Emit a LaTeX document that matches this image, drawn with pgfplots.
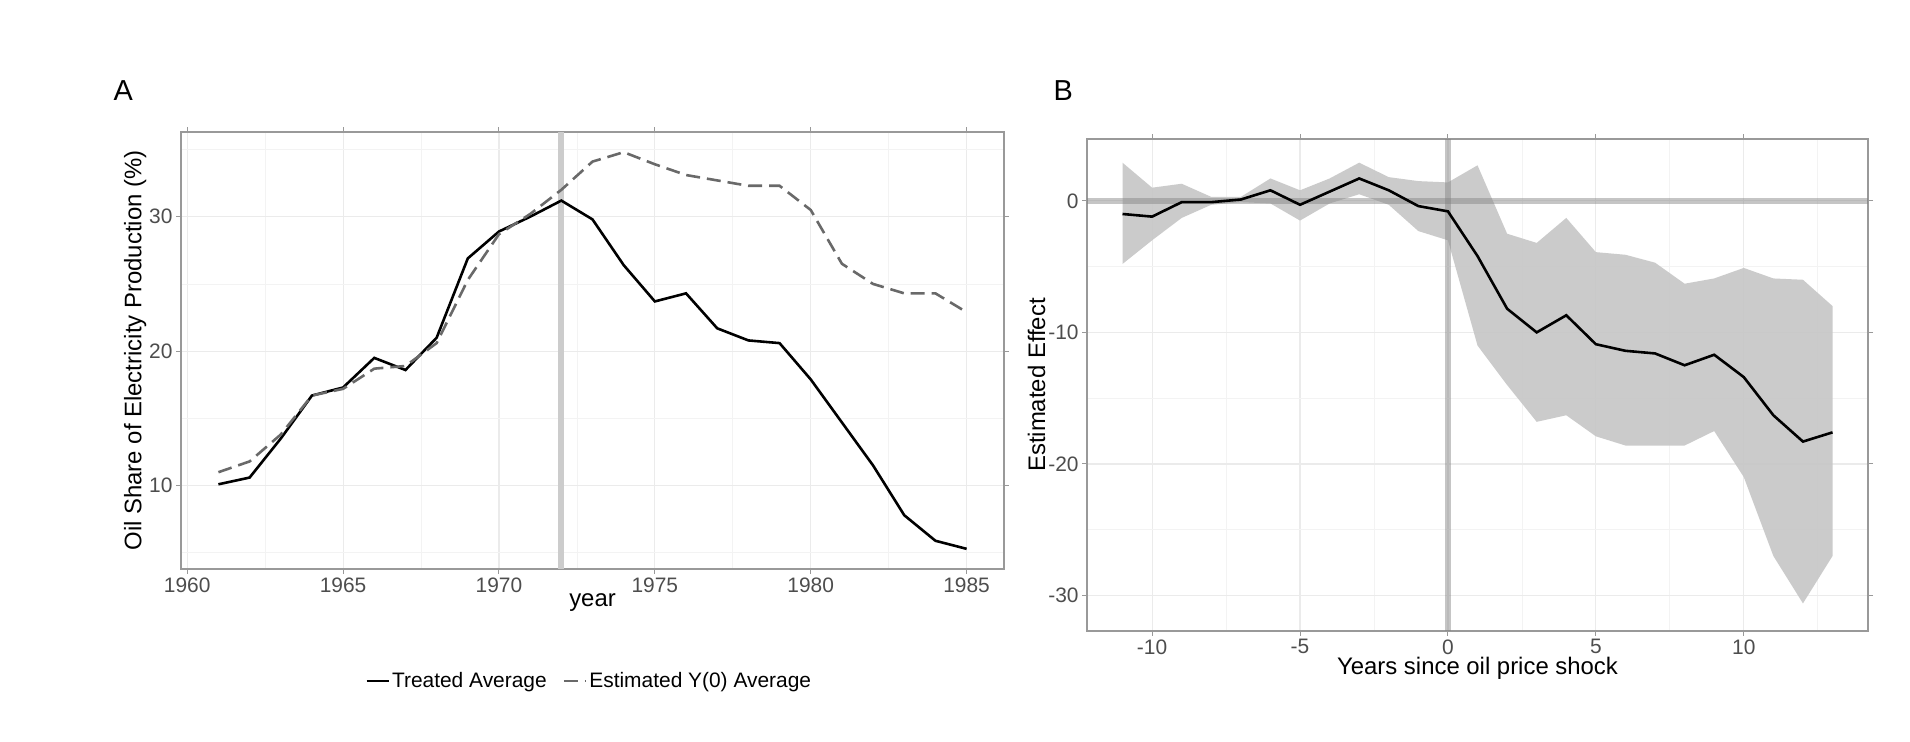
\documentclass[border=0pt]{standalone}
\usepackage{pgfplots}
\pgfplotsset{compat=1.18}
\usepackage{fontspec}
\setmainfont{Liberation Sans}
\definecolor{tc}{RGB}{77,77,77}
\definecolor{gl}{RGB}{235,235,235}
\pgfplotsset{gg/.style={scale only axis, axis line style={draw=gray!80, line width=1.2pt},
 tick align=outside, major tick length=5pt, tick style={draw=gray!80,line width=1pt}, minor tick length=0pt,
 grid=both, major grid style={gl, line width=1.2pt}, minor grid style={gl!60, line width=0.8pt},
 ticklabel style={font=\fontsize{21}{24}\selectfont, text=tc},
 label style={font=\fontsize{24}{28}\selectfont},
 /pgf/number format/assume math mode=true, /pgf/number format/1000 sep={}}}
\begin{document}
\begin{tikzpicture}[x=1bp,y=1bp]
\path[fill=white] (0,0) rectangle (1910,-742);
\node[anchor=base west, font=\fontsize{29}{32}\selectfont] at (110,-100) {A};
\node[anchor=base west, font=\fontsize{29}{32}\selectfont] at (1050,-100) {B};
\begin{axis}[gg, at={(181bp,-132bp)}, anchor=north west, width=823bp, height=437bp,
 xmin=1959.8, xmax=1986.2, ymin=3.8, ymax=36.3,
 xtick={1960,1965,...,1985}, minor xtick={1962.5,1967.5,...,1982.5},
 ytick={10,20,30}, minor ytick={5,15,25,35},
 xlabel={year}, ylabel={Oil Share of Electricity Production (\%)},
 xlabel style={yshift=6pt}, ylabel style={yshift=-4pt},
 legend columns=2, legend style={at={(0.496,-0.256)}, anchor=center, draw=none, fill=none,
   font=\fontsize{21}{24}\selectfont, /tikz/every even column/.append style={column sep=14pt}},
 legend image post style={xscale=1.3}]
\addplot[gray!40, line width=6pt, forget plot] coordinates {(1972,3.8) (1972,36.3)};
\addplot[black, line width=2.6pt] coordinates {(1961,10.1)(1962,10.6)(1963,13.5)(1964,16.7)(1965,17.3)(1966,19.5)(1967,18.6)(1968,21.0)(1969,26.9)(1970,28.9)(1971,30.0)(1972,31.2)(1973,29.8)(1974,26.4)(1975,23.7)(1976,24.3)(1977,21.7)(1978,20.8)(1979,20.6)(1980,17.9)(1981,14.7)(1982,11.5)(1983,7.8)(1984,5.9)(1985,5.3)};
\addlegendentry{Treated Average}
\addplot[gray!110!white, color={rgb,255:red,105;green,105;blue,105}, line width=2.6pt, dash pattern=on 14pt off 7pt] coordinates {(1961,11.0)(1962,11.8)(1963,13.8)(1964,16.7)(1965,17.2)(1966,18.7)(1967,18.9)(1968,20.6)(1969,25.3)(1970,28.7)(1971,30.2)(1972,32.0)(1973,34.1)(1974,34.8)(1975,33.9)(1976,33.1)(1977,32.7)(1978,32.3)(1979,32.3)(1980,30.5)(1981,26.5)(1982,25.0)(1983,24.3)(1984,24.3)(1985,22.9)};
\addlegendentry{Estimated Y(0) Average}
\end{axis}
\begin{axis}[gg, at={(1087bp,-139bp)}, anchor=north west, width=781bp, height=492bp,
 xmin=-12.2, xmax=14.2, ymin=-32.7, ymax=4.7,
 xtick={-10,-5,...,10}, minor xtick={-12.5,-7.5,...,12.5},
 ytick={-30,-20,-10,0}, minor ytick={-25,-15,-5},
 xlabel={Years since oil price shock}, ylabel={Estimated Effect},
 xlabel style={yshift=4pt}, ylabel style={yshift=-4pt}]
\addplot[fill=gray!45, draw=none, opacity=0.9] coordinates {(-11,2.9)(-10,1.0)(-9,1.3)(-8,0.3)(-7,0.3)(-6,1.7)(-5,0.8)(-4,1.7)(-3,2.9)(-2,1.8)(-1,1.5)(0,1.4)(1,2.7)(2,-2.5)(3,-3.2)(4,-1.3)(5,-3.9)(6,-4.1)(7,-4.7)(8,-6.3)(9,-5.9)(10,-5.1)(11,-5.9)(12,-6.0)(13,-8.0)
 (13,-27.0)(12,-30.6)(11,-27.0)(10,-21.0)(9,-17.5)(8,-18.6)(7,-18.6)(6,-18.6)(5,-17.9)(4,-16.3)(3,-16.8)(2,-14.0)(1,-11.0)(0,-3.0)(-1,-2.3)(-2,-0.3)(-3,0.5)(-4,-0.2)(-5,-1.5)(-6,-0.2)(-7,-0.1)(-8,-0.3)(-9,-1.3)(-10,-3.0)(-11,-4.8)} \closedcycle;
\addplot[gray, opacity=0.45, line width=6pt] coordinates {(0,-32.7)(0,4.7)};
\addplot[gray, opacity=0.45, line width=6pt] coordinates {(-12.2,0)(14.2,0)};
\addplot[black, line width=2.6pt] coordinates {(-11,-1.0)(-10,-1.2)(-9,-0.1)(-8,-0.1)(-7,0.1)(-6,0.8)(-5,-0.3)(-4,0.7)(-3,1.7)(-2,0.8)(-1,-0.4)(0,-0.8)(1,-4.2)(2,-8.2)(3,-10.0)(4,-8.7)(5,-10.9)(6,-11.4)(7,-11.6)(8,-12.5)(9,-11.7)(10,-13.4)(11,-16.3)(12,-18.3)(13,-17.6)};
\end{axis}
\end{tikzpicture}
\end{document}
